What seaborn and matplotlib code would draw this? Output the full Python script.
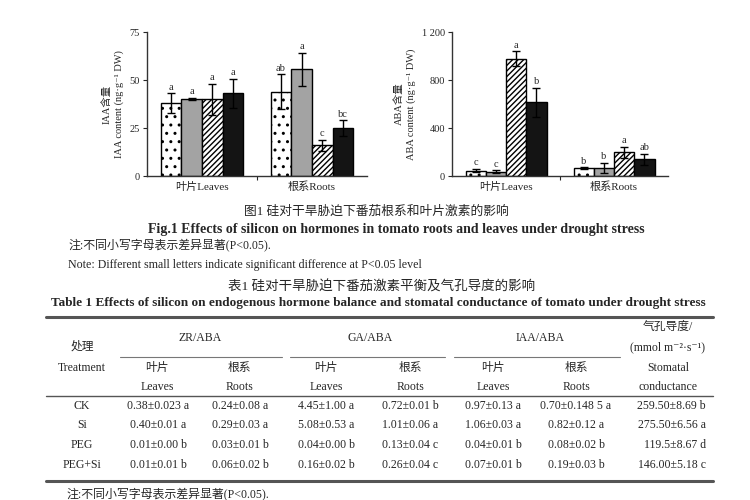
import matplotlib
matplotlib.use('Agg')
import matplotlib.pyplot as plt
import seaborn as sns
import pandas as pd

organs = ['叶片Leaves', '根系Roots']
treatments = ['CK', 'Si', 'PEG', 'PEG+Si']

iaa_leaves = [38, 40, 40, 43]
iaa_roots = [44, 55.5, 16, 25]
iaa_leaves_err = [5, 0.6, 8, 7.5]
iaa_roots_err = [9, 8.5, 3, 4]
iaa_leaves_let = ['a', 'a', 'a', 'a']
iaa_roots_let = ['ab', 'a', 'c', 'bc']

aba_leaves = [45, 36, 978, 615]
aba_roots = [64, 69, 197, 138]
aba_leaves_err = [15, 12, 60, 120]
aba_roots_err = [8, 40, 45, 45]
aba_leaves_let = ['c', 'c', 'a', 'b']
aba_roots_let = ['b', 'b', 'a', 'ab']

table_rows = ['CK', 'Si', 'PEG', 'PEG+Si']
zr_leaves = ['0.38±0.023 a', '0.40±0.01 a', '0.01±0.00 b', '0.01±0.01 b']
zr_roots = ['0.24±0.08 a', '0.29±0.03 a', '0.03±0.01 b', '0.06±0.02 b']
ga_leaves = ['4.45±1.00 a', '5.08±0.53 a', '0.04±0.00 b', '0.16±0.02 b']
ga_roots = ['0.72±0.01 b', '1.01±0.06 a', '0.13±0.04 c', '0.26±0.04 c']
iaa_aba_leaves = ['0.97±0.13 a', '1.06±0.03 a', '0.04±0.01 b', '0.07±0.01 b']
iaa_aba_roots = ['0.70±0.148 5 a', '0.82±0.12 a', '0.08±0.02 b', '0.19±0.03 b']
stomatal = ['259.50±8.69 b', '275.50±6.56 a', '119.5±8.67 d', '146.00±5.18 c']

sns.set_theme(style='white')
FAM = ['Liberation Serif', 'Noto Sans CJK SC', 'DejaVu Serif']
plt.rcParams['font.family'] = FAM
INK = '#262626'
plt.rcParams['text.color'] = INK

fills = ['white', '#a3a3a3', 'white', '#141414']
hatches = ['..', '', '//////', '']
plt.rcParams['hatch.linewidth'] = 1.0


def bar_panel(ax, leaves, roots, lerr, rerr, llet, rlet, ymax, yticks, ytl, ylab):
    df = pd.DataFrame({
        'organ': [organs[0]] * 4 + [organs[1]] * 4,
        'treatment': treatments * 2,
        'value': leaves + roots,
    })
    sns.barplot(df, x='organ', y='value', hue='treatment', order=organs,
                hue_order=treatments, palette=fills, saturation=1,
                width=0.75, edgecolor='black', linewidth=1.0,
                errorbar=None, legend=False, ax=ax)
    errs = [lerr, rerr]
    lets = [llet, rlet]
    bar_conts = list(ax.containers)
    for i, cont in enumerate(bar_conts):
        for j, bar in enumerate(cont):
            bar.set_hatch(hatches[i])
            x = bar.get_x() + bar.get_width() / 2
            h = bar.get_height()
            e = errs[j][i]
            ax.errorbar(x, h, yerr=e, fmt='none', ecolor='black',
                        elinewidth=1, capsize=3, capthick=1)
            ax.text(x, h + e + ymax * 0.012, lets[j][i], ha='center',
                    va='bottom', fontsize=7.5, color=INK)
    ax.set_xlim(-0.5, 1.5)
    ax.set_ylim(0, ymax)
    ax.set_yticks(yticks)
    ax.set_yticklabels(ytl)
    ax.set_xlabel('')
    ax.set_ylabel(ylab, fontsize=7.5, linespacing=1.4, labelpad=4)
    ax.set_xticks([0.5], minor=True)
    ax.tick_params(axis='x', which='major', length=0, labelsize=8, pad=4)
    ax.tick_params(axis='x', which='minor', length=3, width=0.8, direction='out', bottom=True)
    ax.tick_params(axis='y', length=3, width=0.8, direction='out', left=True, labelsize=7.5, pad=2)
    sns.despine(ax=ax)
    for s in ['left', 'bottom']:
        ax.spines[s].set_color('#333333')
        ax.spines[s].set_linewidth(1.0)


fig = plt.figure(figsize=(7.5, 5), dpi=100)
ax1 = fig.add_axes([147 / 750, 1 - 176 / 500, 220 / 750, 144 / 500])
ax2 = fig.add_axes([452 / 750, 1 - 176 / 500, 216 / 750, 144 / 500])

bar_panel(ax1, iaa_leaves, iaa_roots, iaa_leaves_err, iaa_roots_err,
          iaa_leaves_let, iaa_roots_let, 75, [0, 25, 50, 75],
          ['0', '25', '50', '75'], 'IAA含量\nIAA content (ng·g⁻¹ DW)')
bar_panel(ax2, aba_leaves, aba_roots, aba_leaves_err, aba_roots_err,
          aba_leaves_let, aba_roots_let, 1200, [0, 400, 800, 1200],
          ['0', '400', '800', '1 200'], 'ABA含量\nABA content (ng·g⁻¹ DW)')

# page text and table drawn on an overlay in pixel coordinates
ov = fig.add_axes([0, 0, 1, 1], facecolor='none')
ov.set_xlim(0, 750)
ov.set_ylim(500, 0)
ov.axis('off')

ov.text(376, 212, '图1 硅对干旱胁迫下番茄根系和叶片激素的影响', ha='center', va='center', fontsize=9.2)
ov.text(396, 229, 'Fig.1 Effects of silicon on hormones in tomato roots and leaves under drought stress',
        ha='center', va='center', fontsize=10, fontweight='bold')
ov.text(68, 245, '注:不同小写字母表示差异显著(P<0.05).', ha='left', va='center', fontsize=8.6)
ov.text(68, 265, 'Note: Different small letters indicate significant difference at P<0.05 level',
        ha='left', va='center', fontsize=8.6)
ov.text(382, 287, '表1 硅对干旱胁迫下番茄激素平衡及气孔导度的影响', ha='center', va='center', fontsize=9.7)
ov.text(378, 303, 'Table 1 Effects of silicon on endogenous hormone balance and stomatal conductance of tomato under drought stress',
        ha='center', va='center', fontsize=9.5, fontweight='bold')

ov.plot([46, 713], [317, 317], color='#555555', lw=2.2)
ov.plot([46, 713], [396, 396], color='#555555', lw=1.0)
ov.plot([46, 713], [481, 481], color='#555555', lw=2.2)
for x0, x1 in [(120, 282), (290, 445), (454, 620)]:
    ov.plot([x0, x1], [357, 357], color='#777777', lw=0.8)

fs = 8.5
ov.text(82, 347, '处理', ha='center', va='center', fontsize=fs)
ov.text(82, 368, 'Treatment', ha='center', va='center', fontsize=fs)
for x, t in [(200, 'ZR/ABA'), (370, 'GA/ABA'), (540, 'IAA/ABA')]:
    ov.text(x, 338, t, ha='center', va='center', fontsize=fs)
sub_x = [157, 239, 326, 410, 493, 576]
for k, x in enumerate(sub_x):
    ov.text(x, 368, ['叶片', '根系'][k % 2], ha='center', va='center', fontsize=fs)
    ov.text(x, 387, ['Leaves', 'Roots'][k % 2], ha='center', va='center', fontsize=fs)
ov.text(668, 327, '气孔导度/', ha='center', va='center', fontsize=fs)
ov.text(668, 347, '(mmol m⁻²·s⁻¹)', ha='center', va='center', fontsize=fs)
ov.text(668, 368, 'Stomatal', ha='center', va='center', fontsize=fs)
ov.text(668, 387, 'conductance', ha='center', va='center', fontsize=fs)

row_y = [406, 425, 445, 465]
data_x = [158, 240, 326, 410, 493, 576]
cols = [zr_leaves, zr_roots, ga_leaves, ga_roots, iaa_aba_leaves, iaa_aba_roots]
for r, y in enumerate(row_y):
    ov.text(82, y, table_rows[r], ha='center', va='center', fontsize=fs)
    for c, x in enumerate(data_x):
        ov.text(x, y, cols[c][r], ha='center', va='center', fontsize=fs)
    ov.text(706, y, stomatal[r], ha='right', va='center', fontsize=fs)

ov.text(66, 494, '注:不同小写字母表示差异显著(P<0.05).', ha='left', va='center', fontsize=8.6)

fig.savefig('out.png', dpi=100)
